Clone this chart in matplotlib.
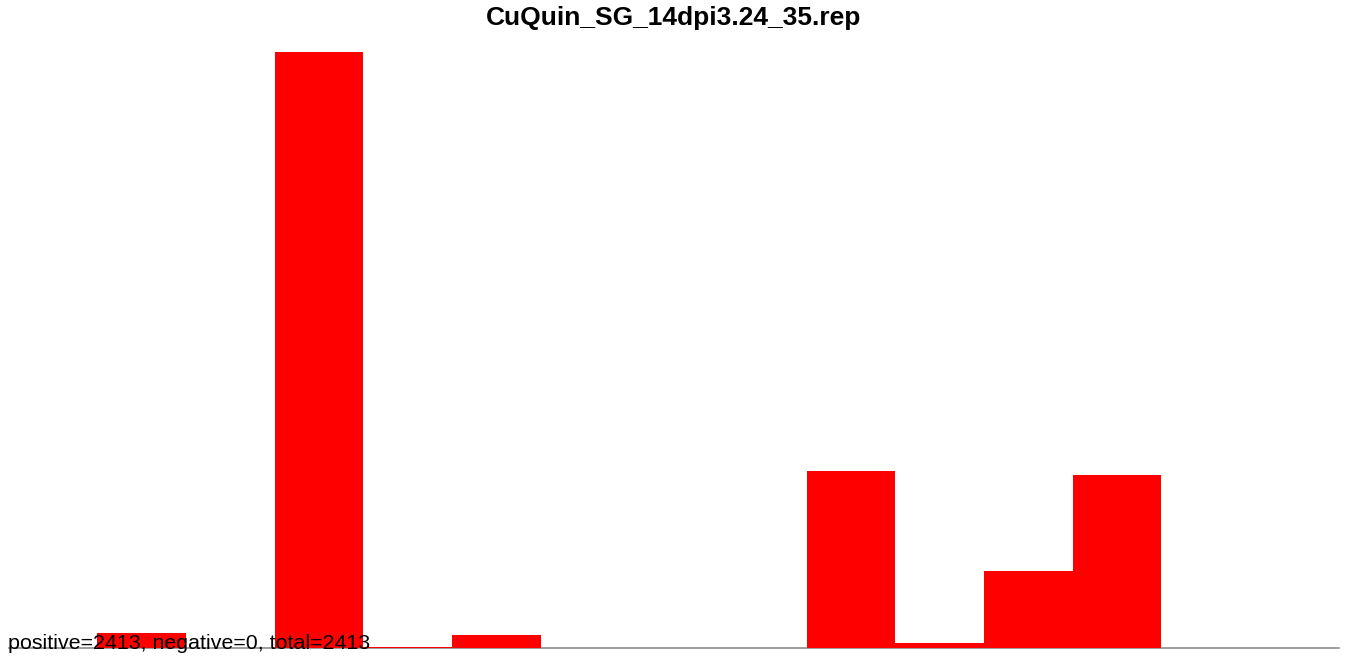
import matplotlib
matplotlib.use("Agg")
import matplotlib.pyplot as plt

plt.rcParams["font.family"] = ["Liberation Sans", "DejaVu Sans"]

TITLE = "CuQuin_SG_14dpi3.24_35.rep"
BINS = list(range(12))
COUNTS = [34, 0, 1361, 2, 30, 0, 0, 0, 404, 11, 176, 395]
POSITIVE = 2413
NEGATIVE = 0
TOTAL = 2413

W, H = 1350, 659
fig = plt.figure(figsize=(W / 100, H / 100), dpi=100)
ax = fig.add_axes([8.5 / W, 11 / H, 1330 / W, 596 / H])

ax.bar(BINS, COUNTS, width=1.0, align="edge", color="#ff0000", linewidth=0, zorder=3)
ax.set_xlim(-1, 14)
ax.set_ylim(0, max(COUNTS))

for side in ("top", "left", "right"):
    ax.spines[side].set_visible(False)
ax.spines["bottom"].set_color("#8c8c8c")
ax.spines["bottom"].set_linewidth(1.2)
ax.set_xticks([])
ax.set_yticks([])

ax.text(0, -0.002, f"positive={POSITIVE}, negative={NEGATIVE}, total={TOTAL}",
        transform=ax.transAxes, ha="left", va="baseline", fontsize=15.4,
        color="black", zorder=5, clip_on=False)

fig.text(0.5 - 1 / W, 1 - 18 / H, TITLE, ha="center", va="center", fontsize=19,
         fontweight="bold")

fig.savefig("out.png", dpi=100, facecolor="white")
